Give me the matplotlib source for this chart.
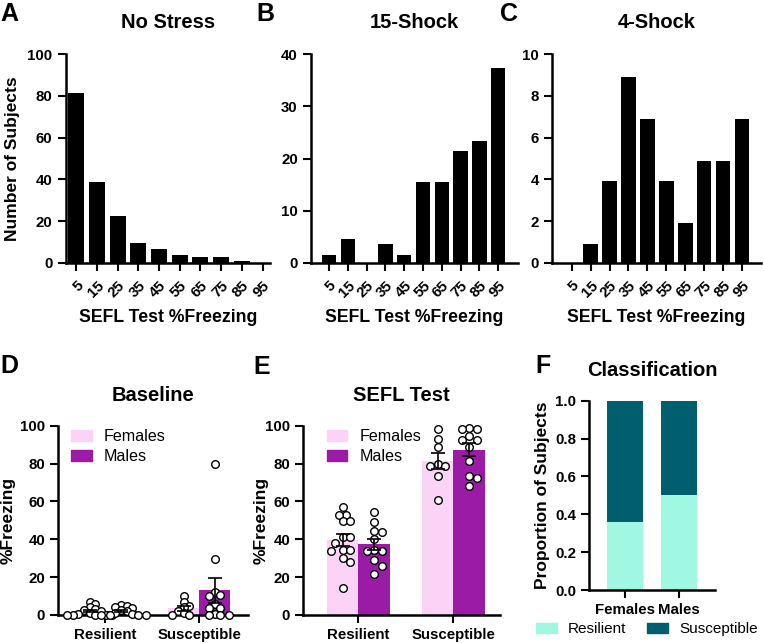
import numpy as np
import matplotlib
matplotlib.use("Agg")
import matplotlib.pyplot as plt
from matplotlib.patches import Patch

plt.rcParams['font.family'] = ['Liberation Sans', 'DejaVu Sans']

# Histogramy (panely A-C)
bins = [5, 15, 25, 35, 45, 55, 65, 75, 85, 95]
no_stress = [81.5, 38.8, 22.6, 9.7, 6.9, 3.7, 2.7, 2.7, 0.8, 0.2]
shock15 = [1.6, 4.5, 0, 3.6, 1.6, 15.5, 15.5, 21.5, 23.4, 37.3]
shock4 = [0, 0.9, 3.9, 8.9, 6.9, 3.9, 1.9, 4.9, 4.9, 6.9]

# Baseline (panel D)
groups = ['Resilient', 'Susceptible']
base_res_f = [7, 6, 4, 3, 2.5, 2, 1, 0.5, 0, 0, 0, 0, 0]
base_res_m = [5.5, 5, 4, 3.5, 2.5, 2, 1, 0.5, 0, 0, 0, 0]
base_sus_f = [10, 7, 4.5, 4, 2, 1, 0, 0]
base_sus_m = [80, 29.5, 12, 10.5, 10, 6, 3.5, 3.5, 0.5, 0, 0, 0]

# SEFL test (panel E)
sefl_res_f = [57, 53, 53, 49.5, 49.5, 41, 41, 38, 34.5, 34.5, 34, 30, 28, 14]
sefl_res_m = [54.5, 49, 44.5, 44, 40, 34.5, 34, 34, 29, 26, 21.5]
sefl_sus_f = [98, 93, 88.5, 80, 78.5, 78.5, 73.5, 60.5]
sefl_sus_m = [99, 98.5, 98, 94.5, 92.5, 92.5, 88.5, 81.5, 73.5, 72.5, 68]

# Klasyfikacja (panel F)
sexes = ['Females', 'Males']
prop_resilient = [0.36, 0.50]
prop_susceptible = [0.64, 0.50]

FEM = '#FBD3F6'
MAL = '#9B1BA7'
MINT = '#A0F8E3'
TEAL = '#005F6E'

W, H = 764, 643
fig = plt.figure(figsize=(W / 100, H / 100), dpi=100)


def px_axes(left, top, right, bottom):
    return fig.add_axes([left / W, 1 - bottom / H, (right - left) / W, (bottom - top) / H])


def style(ax):
    for s in ['top', 'right']:
        ax.spines[s].set_visible(False)
    for s in ['left', 'bottom']:
        ax.spines[s].set_linewidth(1.8)
    ax.tick_params(direction='out', length=6, width=1.5, labelsize=10.8)
    for lab in ax.get_yticklabels():
        lab.set_fontweight('bold')


def hist_panel(ax, vals, ymax, ystep, xlim, title):
    x = np.arange(len(bins))
    ax.bar(x, vals, width=0.77, color='black')
    ax.set_xlim(*xlim)
    ax.set_ylim(0, ymax)
    ax.set_yticks(np.arange(0, ymax + 0.1, ystep))
    ax.set_xticks(x)
    ax.set_xticklabels([str(b) for b in bins], rotation=45, ha='right', va='top',
                       rotation_mode='anchor', fontsize=10.5, fontweight='bold')
    style(ax)
    ax.tick_params(axis='x', pad=5)
    ax.set_title(title, fontsize=14.5, fontweight='bold', pad=19)
    ax.set_xlabel('SEFL Test %Freezing', fontsize=12.7, fontweight='bold')
    ax.xaxis.set_label_coords(0.5, -0.22)


axA = px_axes(65.7, 54, 270, 263)
hist_panel(axA, no_stress, 100, 20, (-0.51, 9.36), 'No Stress')
axA.set_ylabel('Number of Subjects', fontsize=12.5, fontweight='bold')
axA.yaxis.set_label_coords(-0.225, 0.5)

axB = px_axes(311, 54, 518, 263)
hist_panel(axB, shock15, 40, 10, (-0.96, 10.05), '15-Shock')

axC = px_axes(552, 54, 761, 263)
hist_panel(axC, shock4, 10, 2, (-1.04, 10.0), '4-Shock')


def swarm(ax, xc, vals, gap):
    # proste ukladanie punktow obok siebie (jak w GraphPad)
    placed = []
    xs = []
    x0 = ax.transData.transform((xc, 0))[0]
    inv = ax.transData.inverted()
    for v in vals:
        yp = ax.transData.transform((xc, v))[1]
        cands = [0]
        for k in range(1, 30):
            cands += [k * gap * 0.5, -k * gap * 0.5]
        for off in cands:
            ok = all((off + x0 - px) ** 2 + (yp - py) ** 2 >= gap ** 2 for px, py in placed)
            if ok:
                break
        placed.append((x0 + off, yp))
        xs.append(inv.transform((x0 + off, yp))[0])
    return xs


def group_panel(ax, data, xlim, title, gap):
    ax.set_xlim(*xlim)
    ax.set_ylim(0, 100)
    ax.set_yticks(np.arange(0, 101, 20))
    ax.set_xticks([0, 1])
    ax.set_xticklabels(groups, fontsize=10.6, fontweight='bold')
    style(ax)
    w = 1 / 3
    for gi, (fv, mv) in enumerate(data):
        for vals, dx, col in [(fv, -w / 2, FEM), (mv, w / 2, MAL)]:
            vals = np.array(vals, dtype=float)
            m = vals.mean()
            sem = vals.std(ddof=1) / np.sqrt(len(vals))
            ax.bar(gi + dx, m, width=w, color=col, zorder=1)
            xs = swarm(ax, gi + dx, vals, gap)
            ax.scatter(xs, vals, s=30, facecolor='white', edgecolor='black',
                       linewidth=1.0, zorder=3, clip_on=False)
            ax.errorbar(gi + dx, m, yerr=sem, fmt='none', ecolor='black',
                        elinewidth=1.2, capsize=5, capthick=1.2, zorder=4)
    ax.set_title(title, fontsize=14.5, fontweight='bold', pad=18)
    ax.set_ylabel('%Freezing', fontsize=12.5, fontweight='bold')


leg_kw = dict(loc='upper left', frameon=False, fontsize=11.6, handlelength=1.3,
              handleheight=0.65, handletextpad=0.75, labelspacing=0.3,
              borderpad=0, borderaxespad=0)

axD = px_axes(58.3, 425.7, 248, 615)
group_panel(axD, [(base_res_f, base_res_m), (base_sus_f, base_sus_m)], (-0.5, 1.52), 'Baseline', 5.6)
axD.yaxis.set_label_coords(-0.226, 0.5)
axD.legend(handles=[Patch(color=FEM, label='Females'), Patch(color=MAL, label='Males')],
           bbox_to_anchor=(0.065, 0.98), **leg_kw)

axE = px_axes(303.3, 425.7, 500, 615)
group_panel(axE, [(sefl_res_f, sefl_res_m), (sefl_sus_f, sefl_sus_m)], (-0.58, 1.49), 'SEFL Test', 7.6)
axE.yaxis.set_label_coords(-0.177, 0.5)
axE.legend(handles=[Patch(color=FEM, label='Females'), Patch(color=MAL, label='Males')],
           bbox_to_anchor=(0.118, 0.98), **leg_kw)

# Panel F
axF = px_axes(589.3, 400.7, 715, 590)
xf = np.arange(len(sexes))
axF.bar(xf, prop_resilient, width=0.667, color=MINT)
axF.bar(xf, prop_susceptible, bottom=prop_resilient, width=0.667, color=TEAL)
axF.set_xlim(-0.655, 1.67)
axF.set_ylim(0, 1.0)
axF.set_yticks(np.arange(0, 1.01, 0.2))
axF.set_yticklabels(['%.1f' % t for t in np.arange(0, 1.01, 0.2)])
axF.set_xticks(xf)
axF.set_xticklabels(sexes, fontsize=10.6, fontweight='bold')
style(axF)
axF.set_title('Classification', fontsize=14.5, fontweight='bold', pad=18)
axF.set_ylabel('Proportion of Subjects', fontsize=12.5, fontweight='bold')
axF.yaxis.set_label_coords(-0.309, 0.5)
fig.legend(handles=[Patch(color=MINT, label='Resilient'), Patch(color=TEAL, label='Susceptible')],
           loc='center left', bbox_to_anchor=(536 / W, 1 - 629 / H), ncol=2, frameon=False,
           fontsize=11, handlelength=1.35, handleheight=0.65, handletextpad=0.75,
           columnspacing=1.35, borderpad=0, borderaxespad=0)

# Litery paneli
letters = [('A', 0, 20.7), ('B', 256, 20.7), ('C', 500, 20.7),
           ('D', 0, 373), ('E', 253, 374), ('F', 535, 373)]
for t, x, y in letters:
    fig.text(x / W, 1 - y / H, t, fontsize=18, fontweight='bold', ha='left', va='baseline')

fig.savefig('out.png', dpi=100)
